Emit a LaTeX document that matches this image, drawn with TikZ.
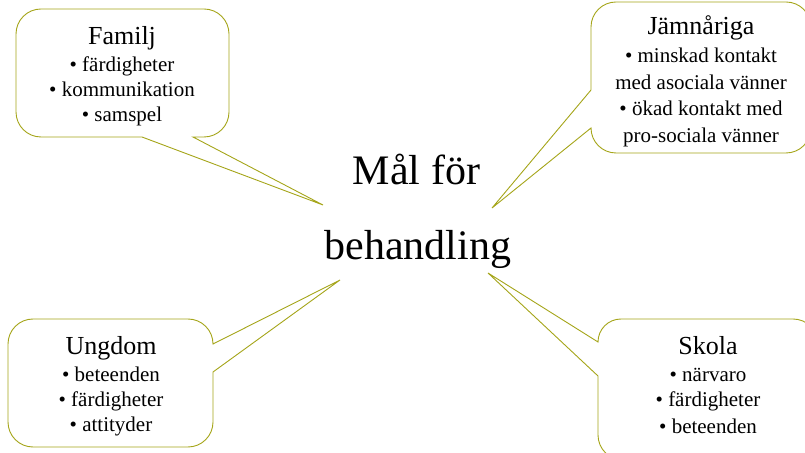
\documentclass[tikz,border=0pt]{standalone}
\usepackage{fontspec}
\setmainfont{Liberation Serif}
\definecolor{olivec}{RGB}{165,165,25}
\begin{document}
\begin{tikzpicture}[x=1pt,y=1pt,
  callout/.style={draw=olivec, line width=0.9pt, fill=white, line join=miter},
  ttl/.style={font=\fontsize{26}{30}\selectfont, anchor=base, inner sep=0pt},
  itm/.style={font=\fontsize{21}{25}\selectfont, anchor=base, inner sep=0pt},
  big/.style={font=\fontsize{42}{48}\selectfont, anchor=base, inner sep=0pt}]
\useasboundingbox (0,0) rectangle (805,452);
\clip (0,0) rectangle (805,452);
% pointer tips
\coordinate (famtip) at (323,247);
\coordinate (jamtip) at (492,244);
\coordinate (ungtip) at (340,172);
\coordinate (skotip) at (488,179);
% Familj
\draw[callout] (41,443) -- (204,443) arc[start angle=90,end angle=0,radius=25]
  -- (229,340) arc[start angle=0,end angle=-90,radius=25]
  -- (193,315) -- (famtip) -- (142,315) -- (41,315)
  arc[start angle=270,end angle=180,radius=25]
  -- (16,418) arc[start angle=180,end angle=90,radius=25] -- cycle;
% Jamnariga
\draw[callout] (616,450) -- (786,450) arc[start angle=90,end angle=0,radius=25]
  -- (811,324) arc[start angle=0,end angle=-90,radius=25]
  -- (616,299) arc[start angle=270,end angle=180,radius=25]
  -- (jamtip) -- (591,362) -- (591,425)
  arc[start angle=180,end angle=90,radius=25] -- cycle;
% Ungdom
\draw[callout] (33,133) -- (188,133) arc[start angle=90,end angle=0,radius=25]
  -- (ungtip) -- (213,80) -- (213,30)
  arc[start angle=0,end angle=-90,radius=25]
  -- (33,5) arc[start angle=270,end angle=180,radius=25]
  -- (8,108) arc[start angle=180,end angle=90,radius=25] -- cycle;
% Skola
\draw[callout] (623,133) -- (793,133) arc[start angle=90,end angle=0,radius=25]
  -- (818,17) arc[start angle=0,end angle=-90,radius=25]
  -- (623,-8) arc[start angle=270,end angle=180,radius=25]
  -- (598,76) -- (skotip) -- (598,110)
  arc[start angle=180,end angle=90,radius=23] -- cycle;
% centre
\node[big] (c1) at (416.5,267) {Mål för};
\node[big] (c2) at (418,192) {behandling};
% Familj text
\node[ttl] (f0) at (122,407) {Familj};
\node[itm] (f1) at (122,380) {• färdigheter};
\node[itm] (f2) at (122,355) {• kommunikation};
\node[itm] (f3) at (122,330) {• samspel};
% Jamnariga text
\node[ttl] (j0) at (701,417) {Jämnåriga};
\node[itm] (j1) at (701,389) {• minskad kontakt};
\node[itm] (j2) at (701,362) {med asociala vänner};
\node[itm] (j3) at (701,336) {• ökad kontakt med};
\node[itm] (j4) at (701,309) {pro-sociala vänner};
% Ungdom text
\node[ttl] (u0) at (111,97) {Ungdom};
\node[itm] (u1) at (111,70) {• beteenden};
\node[itm] (u2) at (111,45) {• färdigheter};
\node[itm] (u3) at (111,20) {• attityder};
% Skola text
\node[ttl] (s0) at (708,97) {Skola};
\node[itm] (s1) at (708,70) {• närvaro};
\node[itm] (s2) at (708,45) {• färdigheter};
\node[itm] (s3) at (708,19) {• beteenden};
\end{tikzpicture}
\end{document}
